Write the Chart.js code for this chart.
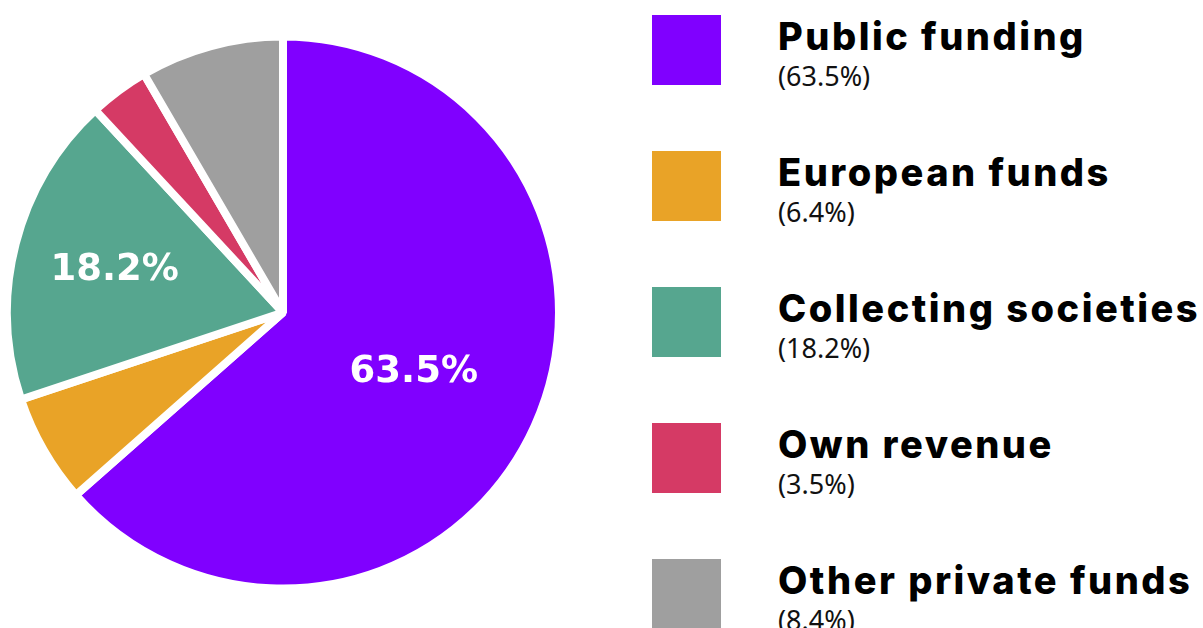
<!DOCTYPE html>
<html>
<head>
<meta charset="utf-8">
<title>Funding sources</title>
<script src="https://cdn.jsdelivr.net/npm/chart.js@4.4.1/dist/chart.umd.min.js"></script>
<style>
  html, body { margin: 0; padding: 0; background: #fff; }
  #wrap { position: relative; width: 1203px; height: 628px; overflow: hidden; }
  #pieBox { position: absolute; left: 0; top: 0; width: 566px; height: 628px; }
  #legend { position: absolute; left: 652px; top: 0; width: 551px; height: 628px; }
  .item { position: absolute; left: 0; width: 551px; height: 80px; }
  .swatch { position: absolute; left: 0; top: 0; width: 69px; height: 70px; }
  .name {
    position: absolute; left: 126px; top: 2px; white-space: nowrap;
    font-family: Inter, sans-serif; font-weight: 800; font-size: 38px;
    line-height: 1; letter-spacing: 2.5px; color: #000;
  }
  .pct {
    position: absolute; left: 126px; top: 47px; white-space: nowrap;
    font-family: "Noto Sans", sans-serif; font-weight: 400; font-size: 27px;
    line-height: 1; color: #111;
  }
</style>
</head>
<body>
<div id="wrap">
  <div id="pieBox"><canvas id="pieChart"></canvas></div>
  <div id="legend"></div>
</div>
<script>
// 各收入来源及占比（%）
const labels = ['Public funding', 'European funds', 'Collecting societies', 'Own revenue', 'Other private funds'];
const shares = [63.5, 6.4, 18.2, 3.5, 8.4];
const colors = ['#8000FF', '#E9A327', '#56A68F', '#D53A65', '#9F9F9F'];

// 只在大扇区里写百分比，数值是到半径的比例
const sliceLabelRadius = [0.52, null, 0.63, null, null];

const sliceLabels = {
  id: 'sliceLabels',
  afterDatasetsDraw(chart) {
    const ctx = chart.ctx;
    const meta = chart.getDatasetMeta(0);
    ctx.save();
    ctx.fillStyle = '#fff';
    ctx.font = 'bold 37px "DejaVu Sans", sans-serif';
    ctx.textAlign = 'center';
    ctx.textBaseline = 'middle';
    meta.data.forEach((arc, i) => {
      const k = sliceLabelRadius[i];
      if (!k) return;
      const p = arc.getProps(['x', 'y', 'startAngle', 'endAngle', 'outerRadius'], true);
      const mid = (p.startAngle + p.endAngle) / 2;
      const r = p.outerRadius * k;
      const text = shares[i].toFixed(1) + '%';
      ctx.fillText(text, p.x + Math.cos(mid) * r, p.y + Math.sin(mid) * r + 1);
    });
    ctx.restore();
  }
};

const chart = new Chart(document.getElementById('pieChart'), {
  type: 'pie',
  data: {
    labels: labels,
    datasets: [{
      data: shares,
      backgroundColor: colors,
      borderColor: '#fff',
      borderWidth: 8,
      hoverOffset: 0
    }]
  },
  options: {
    responsive: true,
    maintainAspectRatio: false,
    animation: false,
    layout: { padding: { left: 3, right: 3, top: 0, bottom: 3 } },
    plugins: {
      legend: { display: false },
      tooltip: { enabled: false }
    }
  },
  plugins: [sliceLabels]
});

// 右侧图例：色块 + 名称 + 百分比
const legend = document.getElementById('legend');
labels.forEach((name, i) => {
  const item = document.createElement('div');
  item.className = 'item';
  item.style.top = (15 + i * 136) + 'px';
  item.innerHTML =
    '<div class="swatch" style="background:' + colors[i] + '"></div>' +
    '<div class="name">' + name + '</div>' +
    '<div class="pct">(' + shares[i].toFixed(1) + '%)</div>';
  legend.appendChild(item);
});
</script>
</body>
</html>
